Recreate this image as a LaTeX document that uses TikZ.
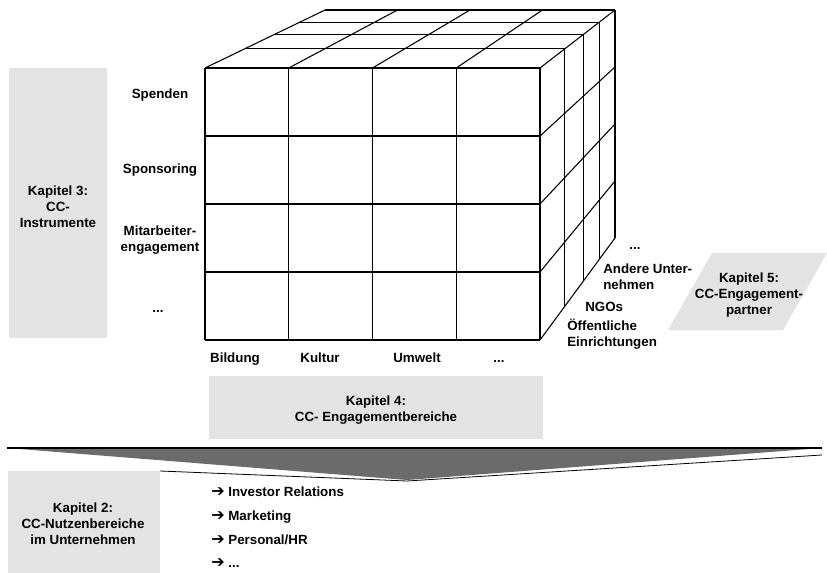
\documentclass[tikz,border=0pt]{standalone}
\usepackage{fontspec}
\setmainfont{Liberation Sans}
\newfontfamily\symfont{DejaVu Sans}
\usepackage{tikz}
\definecolor{boxgray}{RGB}{227,227,227}
\definecolor{arrowgray}{RGB}{107,107,107}
\newcommand{\benefitarrow}{{\symfont\bfseries\fontsize{12}{12}\selectfont ➔}}
\tikzset{
  cubeline/.style={line width=0.8pt, black},
  chapterbox/.style={fill=boxgray, draw=none},
  label/.style={font=\bfseries, inner sep=0pt, align=center},
  columnlabel/.style={font=\bfseries, inner sep=0pt, anchor=base},
  leftlabel/.style={font=\bfseries, inner sep=0pt, align=left, anchor=west},
  benefit/.style={font=\bfseries, inner sep=0pt, anchor=base west}
}

\begin{document}
\begin{tikzpicture}[x=0.75pt, y=-0.75pt]
      \useasboundingbox (0,0) rectangle (827,573);
      \fontsize{10}{12}\selectfont

      % Grey chapter boxes behind everything.
      \fill[chapterbox] (9,68) rectangle (107,338);
      \fill[chapterbox] (209,376) rectangle (543,439);
      \fill[chapterbox] (668,330) -- (712,253) -- (827,253) -- (783,330) -- cycle;
      \fill[chapterbox] (8,471) rectangle (160,573);

      % Draw front face of the cube (4 x 4 cells).
      \foreach \x in {205,288.75,372.5,456.25,540}
        \draw[cubeline] (\x,68) -- (\x,340);
      \foreach \y in {68,136,204,272,340}
        \draw[cubeline] (205,\y) -- (540,\y);

      % Top face: depth slices, then edges running backwards.
      \draw[cubeline] (244.6,48.86) -- (564.75,48.86);
      \draw[cubeline] (274.6,34.36) -- (583.5,34.36);
      \draw[cubeline] (299.8,22.18) -- (599.25,22.18);
      \draw[cubeline] (325,10) -- (615,10);
      \foreach \xf/\xb in {205/325,288.75/397.5,372.5/470,456.25/542.5,540/615}
        \draw[cubeline] (\xf,68) -- (\xb,10);

      % Right face: depth slices, then edges running backwards.
      \draw[cubeline] (564.75,48.86) -- (564.75,306.34);
      \draw[cubeline] (583.5,34.36) -- (583.5,280.84);
      \draw[cubeline] (599.25,22.18) -- (599.25,259.42);
      \draw[cubeline] (615,10) -- (615,238);
      \foreach \yf/\yb in {136/67,204/124,272/181,340/238}
        \draw[cubeline] (540,\yf) -- (615,\yb);

      % Rows: CC instruments.
      \node[label] (kap3) at (58,207) {Kapitel 3:\\CC-\\Instrumente};
      \node[label] (spenden) at (160,95) {Spenden};
      \node[label] (sponsoring) at (160,170) {Sponsoring};
      \node[label] (mitarbeiter) at (160,240) {Mitarbeiter-\\engagement};
      \node[label] (rowdots) at (158,312) {...};

      % Columns: areas of engagement.
      \node[columnlabel] (bildung) at (235,362) {Bildung};
      \node[columnlabel] (kultur) at (320,362) {Kultur};
      \node[columnlabel] (umwelt) at (417,362) {Umwelt};
      \node[columnlabel] (coldots) at (499,362) {...};
      \node[label] (kap4) at (376,410) {Kapitel 4:\\CC- Engagementbereiche};

      % Depth: partners.
      \node[label] (depthdots) at (635,249) {...};
      \node[leftlabel] (andere) at (603,277) {Andere Unter-\\nehmen};
      \node[leftlabel] (ngos) at (585,307) {NGOs};
      \node[leftlabel] (oeffentlich) at (567,334) {Öffentliche\\Einrichtungen};
      \node[label] (kap5) at (749,295) {Kapitel 5:\\CC-Engagement-\\partner};

      % Big arrow pointing down to the benefits.
      \fill[arrowgray] (7,448) -- (822,448) -- (407,480) -- cycle;
      \draw[line width=0.8pt] (7,448) -- (822,448);
      \draw[line width=0.6pt] (160,471) -- (407,481) -- (822,455);

      % Benefits within the company.
      \node[label] (kap2) at (83,524) {Kapitel 2:\\CC-Nutzenbereiche\\im Unternehmen};
      \node[benefit] (investor) at (211,496) {\benefitarrow{} Investor Relations};
      \node[benefit] (marketing) at (211,520) {\benefitarrow{} Marketing};
      \node[benefit] (personal) at (211,544) {\benefitarrow{} Personal/HR};
      \node[benefit] (bendots) at (211,567) {\benefitarrow{} ...};

    \end{tikzpicture}
\end{document}
